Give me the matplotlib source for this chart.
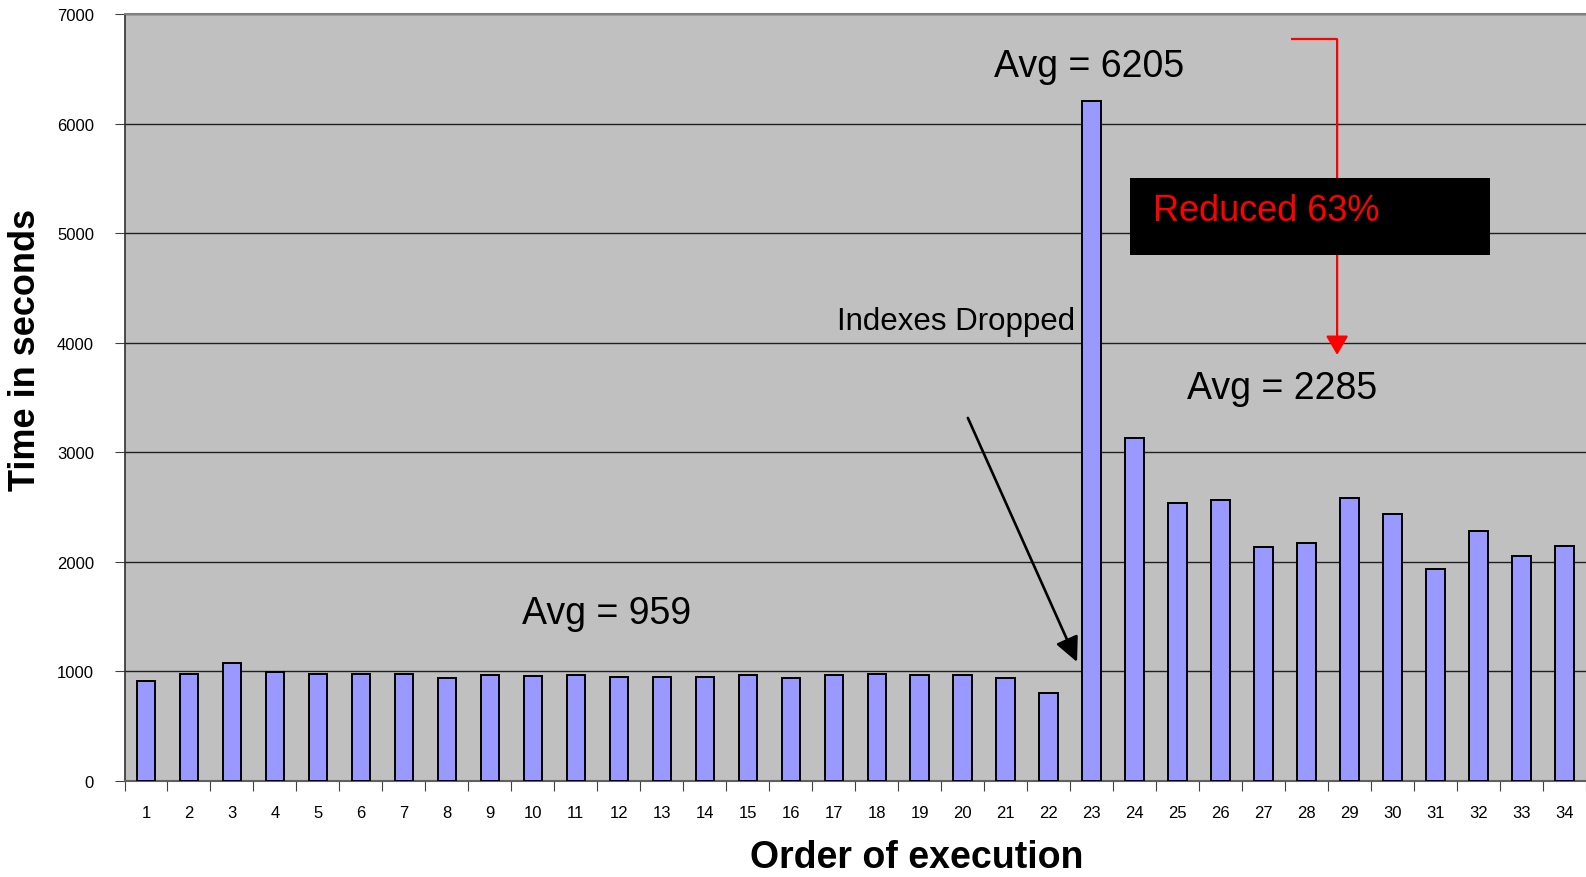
import matplotlib.pyplot as plt
from matplotlib.patches import Rectangle
from matplotlib.ticker import FixedLocator, NullFormatter

# execution times in seconds, one bar per run
runs = list(range(1, 35))
times = [915, 980, 1080, 995, 980, 980, 980, 940, 965, 955, 965,
         950, 950, 950, 965, 945, 965, 975, 965, 965, 940, 805,
         6205, 3130, 2540, 2570, 2140, 2170, 2580, 2440, 1940, 2280, 2050, 2145]
yticks = [0, 1000, 2000, 3000, 4000, 5000, 6000, 7000]

plt.rcParams['font.family'] = ['Liberation Sans', 'DejaVu Sans']


def main():
    fig = plt.figure(figsize=(15.86, 8.78), dpi=100)
    ax = fig.add_axes([0.0785, 0.1093, 0.9215, 0.8733])
    ax.set_facecolor('#C0C0C0')

    ax.bar(runs, times, width=0.43, color='#9999FF', edgecolor='black',
           linewidth=1.4, zorder=3)

    ax.set_xlim(0.5, 34.5)
    ax.set_ylim(0, 7000)
    ax.set_yticks(yticks)
    ax.yaxis.grid(True, color='#202020', linewidth=1.0)
    ax.set_axisbelow(True)

    # ticks sit between categories, labels at the centres
    ax.xaxis.set_major_locator(FixedLocator([r - 0.5 for r in runs] + [34.5]))
    ax.xaxis.set_major_formatter(NullFormatter())
    ax.xaxis.set_minor_locator(FixedLocator(runs))
    ax.set_xticklabels([str(r) for r in runs], minor=True)
    ax.tick_params(axis='x', which='major', length=7, direction='out',
                   color='#404040')
    ax.tick_params(axis='x', which='minor', length=0, pad=17, labelsize=12)
    ax.tick_params(axis='y', length=7, direction='out', pad=15, labelsize=12,
                   color='#404040')

    ax.spines['right'].set_visible(False)
    ax.spines['top'].set_color('#808080')
    ax.spines['top'].set_linewidth(1.5)
    ax.spines['bottom'].set_color('#606060')
    ax.spines['bottom'].set_linewidth(1.5)
    ax.spines['left'].set_color('#303030')
    ax.spines['left'].set_linewidth(1.2)

    fig.text(0.578, 0.011, 'Order of execution', ha='center', va='baseline',
             fontsize=27, fontweight='bold')
    fig.text(0.016, 0.601, 'Time in seconds', ha='center', va='center',
             rotation=90, fontsize=26, fontweight='bold')

    # annotations
    ax.text(20.73, 6530, 'Avg = 6205', ha='left', va='center', fontsize=27)
    ax.text(9.75, 1534, 'Avg = 959', ha='left', va='center', fontsize=27)
    ax.text(25.22, 3589, 'Avg = 2285', ha='left', va='center', fontsize=27)
    ax.text(17.08, 4201, 'Indexes Dropped', ha='left', va='center', fontsize=22.5)

    ax.annotate('', xy=(22.66, 1087), xytext=(20.12, 3315),
                arrowprops=dict(arrowstyle='-|>,head_length=0.75,head_width=0.36',
                                color='black', lw=1.9, mutation_scale=20,
                                shrinkA=0, shrinkB=0), zorder=5)

    ax.plot([27.64, 28.71], [6772, 6772], color='red', lw=1.6, zorder=5,
            solid_capstyle='butt')
    ax.annotate('', xy=(28.71, 3890), xytext=(28.71, 6772),
                arrowprops=dict(arrowstyle='-|>,head_length=0.58,head_width=0.34',
                                color='red', lw=1.6, mutation_scale=20,
                                shrinkA=0, shrinkB=0), zorder=5)

    ax.add_patch(Rectangle((23.89, 4804), 8.38, 703, facecolor='black',
                           edgecolor='none', zorder=6))
    ax.text(24.42, 5205, 'Reduced 63%', ha='left', va='center', fontsize=26,
            color='red', zorder=7)

    plt.savefig('out.png', dpi=100)
    plt.close()


main()
